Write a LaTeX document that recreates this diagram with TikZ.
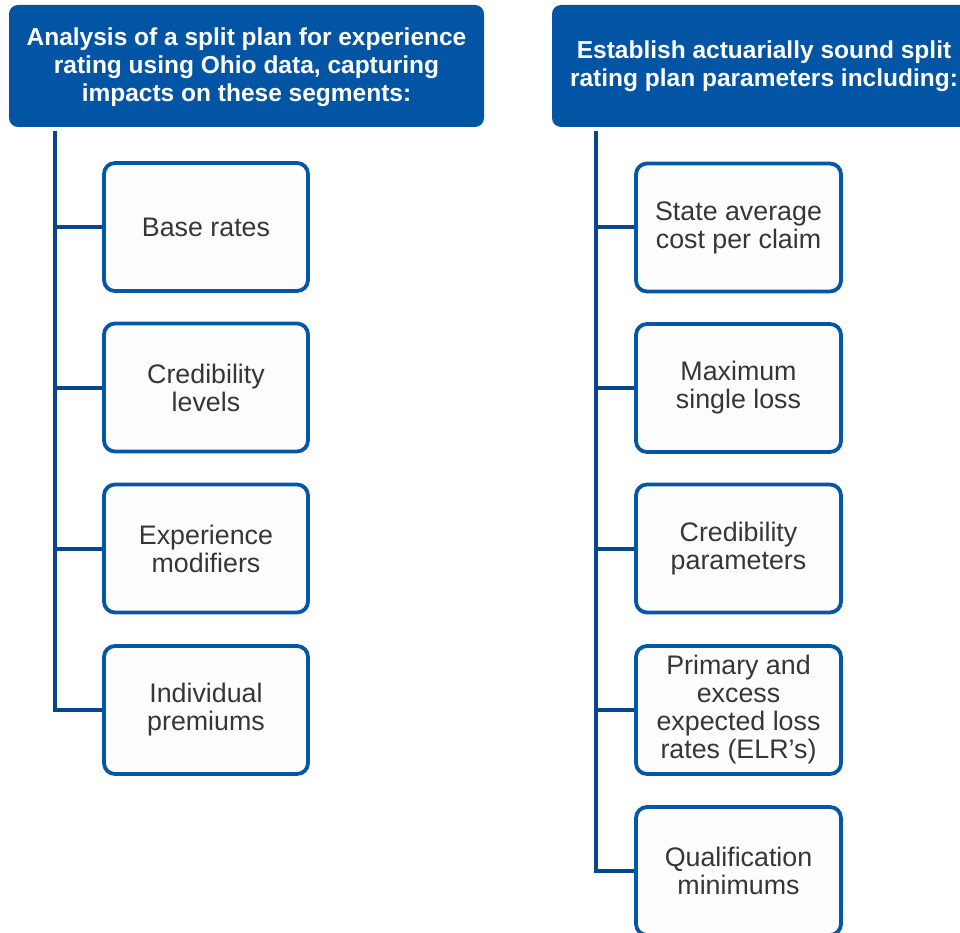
\documentclass[tikz,border=0pt]{standalone}
\usepackage{fontspec}
\setmainfont{Liberation Sans}
\definecolor{hdrblue}{RGB}{2,85,164}
\definecolor{boxblue}{RGB}{4,86,166}
\definecolor{linkblue}{RGB}{6,70,138}
\definecolor{txtgray}{RGB}{54,54,54}
\definecolor{boxfill}{RGB}{253,253,253}
\tikzset{
  header/.style={fill=hdrblue, rounded corners=9pt, inner sep=0pt, minimum height=122pt},
  hdrtext/.style={text=white, align=center, font=\fontsize{24.5}{28}\selectfont\bfseries, inner sep=0pt},
  itembox/.style={draw=boxblue, line width=3.8pt, fill=boxfill, rounded corners=11pt,
    text=txtgray, align=center, font=\fontsize{26.8}{28}\selectfont,
    minimum width=204pt, minimum height=128pt, inner sep=0pt},
  link/.style={draw=linkblue, line width=4.5pt},
  spur/.style={draw=linkblue, line width=4pt}
}
\begin{document}
\begin{tikzpicture}[x=1pt,y=-1pt]
\useasboundingbox (0,0) rectangle (960,933);
\clip (0,0) rectangle (960,933);
% headers
\node[header, minimum width=475pt] (h1) at (246.5,66) {};
\node[hdrtext] (h1t) at (246.5,67.5) {Analysis of a split plan for experience\\rating using Ohio data, capturing\\impacts on these segments:};
\node[header, minimum width=423pt] (h2) at (763.5,66) {};
\node[hdrtext] (h2t) at (764,66) {Establish actuarially sound split\\rating plan parameters including:};
% left items
\node[itembox] (l1) at (206,227) {Base rates};
\node[itembox] (l2) at (206,387.5) {Credibility\\levels};
\node[itembox] (l3) at (206,548.5) {Experience\\modifiers};
\node[itembox] (l4) at (206,710) {Individual\\premiums};
% right items
\node[itembox, minimum width=205pt] (r1) at (738.5,227.5) {State average\\cost per claim};
\node[itembox, minimum width=205pt] (r2) at (738.5,388) {Maximum\\single loss};
\node[itembox, minimum width=205pt] (r3) at (738.5,548.5) {Credibility\\parameters};
\node[itembox, minimum width=205pt] (r4) at (738.5,710) {Primary and\\excess\\expected loss\\rates (ELR’s)};
\node[itembox, minimum width=205pt] (r5) at (738.5,871) {Qualification\\minimums};
% left connectors
\coordinate (lt) at (55,131);
\coordinate (lb) at (55,712);
\draw[link] (lt) -- (lb);
\foreach \n in {l1,l2,l3,l4}{\draw[spur] (\n.west -| lt) -- (\n.west);}
% right connectors
\coordinate (rt) at (596,131);
\coordinate (rb) at (596,873);
\draw[link] (rt) -- (rb);
\foreach \n in {r1,r2,r3,r4,r5}{\draw[spur] (\n.west -| rt) -- (\n.west);}
\end{tikzpicture}
\end{document}
